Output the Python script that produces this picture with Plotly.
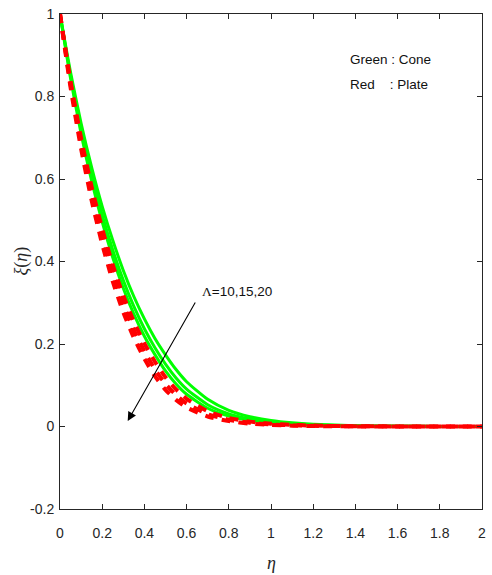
import plotly.graph_objects as go

# similarity variable
eta = [0, 0.05, 0.1, 0.15, 0.2, 0.25, 0.3, 0.35, 0.4, 0.45, 0.5, 0.55, 0.6,
       0.7, 0.8, 0.9, 1.0, 1.1, 1.2, 1.4, 1.6, 1.8, 2.0]

# cone (green) profiles for Lambda = 10, 15, 20
cone_L10 = [1, 0.8586, 0.7349, 0.6282, 0.5337, 0.4516, 0.3783, 0.3151, 0.2608, 0.2136,
            0.1738, 0.1381, 0.1086, 0.0659, 0.0392, 0.0238, 0.0146, 0.0090, 0.0056,
            0.0021, 0.0008, 0.0003, 0.0001]
cone_L15 = [1, 0.8506, 0.7212, 0.6100, 0.5127, 0.4282, 0.3542, 0.2910, 0.2370, 0.1910,
            0.1514, 0.1178, 0.0907, 0.0529, 0.0308, 0.0182, 0.0109, 0.0066, 0.0039,
            0.0014, 0.0005, 0.0002, 0.0001]
cone_L20 = [1, 0.8440, 0.7100, 0.5952, 0.4959, 0.4097, 0.3353, 0.2724, 0.2188, 0.1742,
            0.1348, 0.1031, 0.0781, 0.0442, 0.0252, 0.0146, 0.0086, 0.0050, 0.0030,
            0.0010, 0.0004, 0.0001, 0.0]

# plate (red) profiles for Lambda = 10, 15, 20
plate_L10 = [1, 0.8374, 0.6989, 0.5809, 0.4796, 0.3919, 0.3174, 0.2546, 0.2016, 0.1571,
             0.1195, 0.0898, 0.0672, 0.0369, 0.0207, 0.0118, 0.0068, 0.0039, 0.0022,
             0.0007, 0.0002, 0.0001, 0.0]
plate_L15 = [1, 0.8297, 0.6859, 0.5641, 0.4607, 0.3715, 0.2966, 0.2342, 0.1827, 0.1387,
             0.1033, 0.0762, 0.0558, 0.0299, 0.0164, 0.0091, 0.0051, 0.0028, 0.0016,
             0.0005, 0.0002, 0.0, 0.0]
plate_L20 = [1, 0.8220, 0.6731, 0.5478, 0.4421, 0.3516, 0.2770, 0.2153, 0.1644, 0.1219,
             0.0889, 0.0645, 0.0463, 0.0242, 0.0130, 0.0070, 0.0038, 0.0021, 0.0011,
             0.0003, 0.0001, 0.0, 0.0]

x_ticks = [0, 0.2, 0.4, 0.6, 0.8, 1, 1.2, 1.4, 1.6, 1.8, 2]
x_tick_text = ["0", "0.2", "0.4", "0.6", "0.8", "1", "1.2", "1.4", "1.6", "1.8", "2"]
y_ticks = [-0.2, 0, 0.2, 0.4, 0.6, 0.8, 1]
y_tick_text = ["-0.2", "0", "0.2", "0.4", "0.6", "0.8", "1"]

GREEN = "#00FF00"
RED = "#FF0000"
AXIS = "#262626"
SANS = "Liberation Sans, Arial, sans-serif"
SERIF = "Liberation Serif, Times New Roman, serif"

fig = go.Figure()

for ys in (cone_L10, cone_L15, cone_L20):
    fig.add_trace(go.Scatter(
        x=eta, y=ys, mode="lines",
        line=dict(color=GREEN, width=3, shape="spline", smoothing=0.6),
        showlegend=False, hoverinfo="skip"))

for ys in (plate_L10, plate_L15, plate_L20):
    fig.add_trace(go.Scatter(
        x=eta, y=ys, mode="lines",
        line=dict(color=RED, width=4, dash="9px,8px", shape="spline", smoothing=0.6),
        showlegend=False, hoverinfo="skip"))

axis_common = dict(
    showline=True, linecolor=AXIS, linewidth=1, mirror="ticks",
    ticks="inside", ticklen=5, tickcolor=AXIS, tickwidth=1,
    showgrid=False, zeroline=False,
    tickfont=dict(family=SANS, size=14, color=AXIS),
)

fig.update_xaxes(range=[0, 2], tickvals=x_ticks, ticktext=x_tick_text,
                 ticklabelstandoff=11, **axis_common)
fig.update_yaxes(range=[-0.2, 1], tickvals=y_ticks, ticktext=y_tick_text,
                 ticklabelstandoff=2, **axis_common)

annotations = [
    # axis titles
    dict(text="<i>η</i>", xref="paper", yref="paper", x=0.5, y=0, yshift=-54,
         showarrow=False, font=dict(family=SERIF, size=18, color=AXIS),
         xanchor="center", yanchor="middle"),
    dict(text="<i>ξ</i>(<i>η</i>)", xref="paper", yref="paper", x=0, xshift=-39,
         y=0.5, textangle=-90, showarrow=False,
         font=dict(family=SERIF, size=18, color=AXIS),
         xanchor="center", yanchor="middle"),
    # key text
    dict(text="Green : Cone", xref="x", yref="y", x=1.366, y=0.89,
         showarrow=False, xanchor="left", yanchor="middle",
         font=dict(family=SANS, size=13.5, color="#111111")),
    dict(text="Red\u00a0\u00a0\u00a0\u00a0: Plate", xref="x", yref="y", x=1.366, y=0.83,
         showarrow=False, xanchor="left", yanchor="middle",
         font=dict(family=SANS, size=13.5, color="#111111")),
    # parameter arrow
    dict(text="", x=0.321, y=0.0135, xref="x", yref="y",
         ax=0.645, ay=0.304, axref="x", ayref="y",
         showarrow=True, arrowhead=2, arrowsize=1.6, arrowwidth=1.1,
         arrowcolor="#000000", standoff=0, startstandoff=0),
    dict(text="<span style=\"font-family:Liberation Serif\">Λ</span>=10,15,20",
         xref="x", yref="y", x=0.665, y=0.327,
         showarrow=False, xanchor="left", yanchor="middle",
         font=dict(family=SANS, size=13.5, color="#111111")),
]

fig.update_layout(
    width=492, height=575,
    margin=dict(l=60, r=6, t=13, b=66),
    paper_bgcolor="white", plot_bgcolor="white",
    showlegend=False,
    annotations=annotations,
)

fig.write_html("out.html")
